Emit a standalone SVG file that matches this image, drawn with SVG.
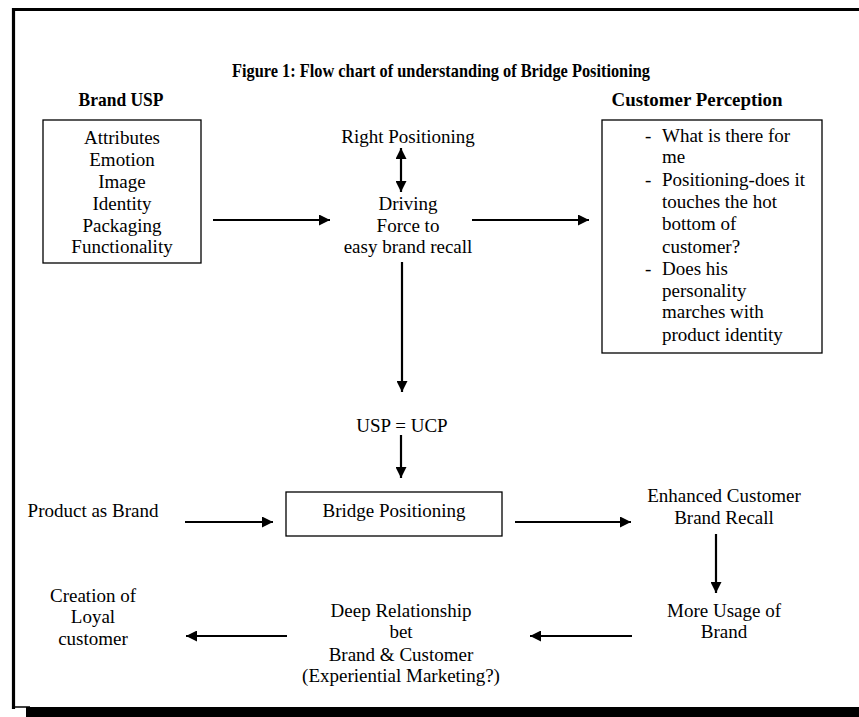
<svg xmlns="http://www.w3.org/2000/svg" width="859" height="717" viewBox="0 0 859 717">
<style>
  text { font-family: "Liberation Serif", "Times New Roman", serif; font-size: 19px; fill: #000; }
  .c { text-anchor: middle; }
  .b { font-weight: bold; }
  .box { fill: none; stroke: #000; stroke-width: 1.3; }
  .arr { stroke: #000; stroke-width: 2.2; fill: none; }
</style>
<defs>
  <marker id="ah" markerUnits="userSpaceOnUse" markerWidth="11" markerHeight="11" refX="11" refY="5.5" orient="auto-start-reverse">
    <path d="M0,0 L11,5.5 L0,11 z" fill="#000"/>
  </marker>
</defs>
<rect x="0" y="0" width="859" height="717" fill="#fff"/>
<!-- frame -->
<path d="M13.5,709 L13.5,9.5 L860,9.5" fill="none" stroke="#000" stroke-width="3.2"/>
<line x1="12" y1="707" x2="30" y2="707" stroke="#000" stroke-width="1.5"/>
<rect x="26" y="707" width="833" height="10" fill="#000"/>

<g id="title">
  <text class="c b" x="441" y="77" font-size="14.5" textLength="418" lengthAdjust="spacingAndGlyphs">Figure 1: Flow chart of understanding of Bridge Positioning</text>
</g>

<g id="brand-usp">
  <text class="c b" x="121" y="106" font-size="18" textLength="85" lengthAdjust="spacingAndGlyphs">Brand USP</text>
  <rect class="box" x="43" y="120" width="158" height="143"/>
  <text class="c" x="122" y="144">Attributes</text>
  <text class="c" x="122" y="166">Emotion</text>
  <text class="c" x="122" y="188">Image</text>
  <text class="c" x="122" y="210">Identity</text>
  <text class="c" x="122" y="232">Packaging</text>
  <text class="c" x="122" y="253">Functionality</text>
</g>

<g id="right-positioning">
  <text class="c" x="408" y="143">Right Positioning</text>
</g>

<g id="driving-force">
  <text class="c" x="408" y="210">Driving</text>
  <text class="c" x="408" y="232">Force to</text>
  <text class="c" x="408" y="253">easy brand recall</text>
</g>

<g id="customer-perception">
  <text class="c b" x="697" y="106" font-size="18" textLength="171" lengthAdjust="spacingAndGlyphs">Customer Perception</text>
  <rect class="box" x="602" y="120" width="220" height="233"/>
  <text x="645" y="142">-</text>
  <text x="662" y="142">What is there for</text>
  <text x="662" y="163">me</text>
  <text x="645" y="186">-</text>
  <text x="662" y="186">Positioning-does it</text>
  <text x="662" y="208">touches the hot</text>
  <text x="662" y="230">bottom of</text>
  <text x="662" y="253">customer?</text>
  <text x="645" y="275">-</text>
  <text x="662" y="275">Does his</text>
  <text x="662" y="297">personality</text>
  <text x="662" y="318">marches with</text>
  <text x="662" y="341">product identity</text>
</g>

<g id="usp-ucp">
  <text class="c" x="402" y="432">USP = UCP</text>
</g>

<g id="product-as-brand">
  <text class="c" x="93" y="517">Product as Brand</text>
</g>

<g id="bridge-positioning">
  <rect class="box" x="286" y="492" width="216" height="44"/>
  <text class="c" x="394" y="517">Bridge Positioning</text>
</g>

<g id="enhanced-recall">
  <text class="c" x="724" y="502">Enhanced Customer</text>
  <text class="c" x="724" y="524">Brand Recall</text>
</g>

<g id="more-usage">
  <text class="c" x="724" y="617">More Usage of</text>
  <text class="c" x="724" y="638">Brand</text>
</g>

<g id="deep-relationship">
  <text class="c" x="401" y="617">Deep Relationship</text>
  <text class="c" x="401" y="638">bet</text>
  <text class="c" x="401" y="661">Brand &amp; Customer</text>
  <text class="c" x="401" y="682">(Experiential Marketing?)</text>
</g>

<g id="loyal-customer">
  <text class="c" x="93" y="602">Creation of</text>
  <text class="c" x="93" y="623">Loyal</text>
  <text class="c" x="93" y="645">customer</text>
</g>

<g id="connectors">
  <line class="arr" x1="213" y1="220" x2="330" y2="220" marker-end="url(#ah)"/>
  <line class="arr" x1="401" y1="148" x2="401" y2="192" marker-start="url(#ah)" marker-end="url(#ah)"/>
  <line class="arr" x1="472" y1="220" x2="589" y2="220" marker-end="url(#ah)"/>
  <line class="arr" x1="402" y1="262" x2="402" y2="392" marker-end="url(#ah)"/>
  <line class="arr" x1="401" y1="435" x2="401" y2="478" marker-end="url(#ah)"/>
  <line class="arr" x1="185" y1="522" x2="273" y2="522" marker-end="url(#ah)"/>
  <line class="arr" x1="515" y1="522" x2="631" y2="522" marker-end="url(#ah)"/>
  <line class="arr" x1="716" y1="534" x2="716" y2="593" marker-end="url(#ah)"/>
  <line class="arr" x1="632" y1="636" x2="530" y2="636" marker-end="url(#ah)"/>
  <line class="arr" x1="287" y1="636" x2="186" y2="636" marker-end="url(#ah)"/>
</g>
</svg>
